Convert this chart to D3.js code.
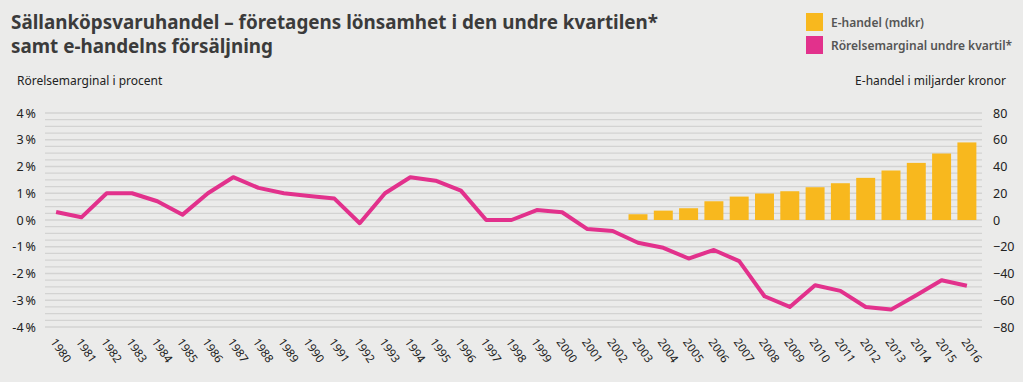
<!DOCTYPE html>
<html>
<head>
<meta charset="utf-8">
<script src="https://cdn.jsdelivr.net/npm/d3@7"></script>
<style>
  body { margin: 0; background: #ebebea; }
  svg { display: block; font-family: "Noto Sans", "Open Sans", sans-serif; }
</style>
</head>
<body>
<svg id="chart" width="1023" height="382"></svg>
<script>
// Data
var years = d3.range(1980, 2017);
var margin = [0.3, 0.1, 1.0, 1.0, 0.7, 0.2, 1.0, 1.6, 1.2, 1.0,
              0.9, 0.8, -0.12, 1.0, 1.6, 1.47, 1.1, 0.0, 0.0, 0.37,
              0.29, -0.34, -0.41, -0.85, -1.04, -1.44, -1.12, -1.54, -2.85, -3.25,
              -2.44, -2.65, -3.25, -3.35, -2.81, -2.25, -2.46];
var ehandelYears = d3.range(2003, 2017);
var ehandel = [4.3, 7, 8.8, 14, 17.5, 19.8, 21.5, 24.5, 27.5, 31.5, 37, 42.7, 49.7, 58];
var leftTicks = [4, 3, 2, 1, 0, -1, -2, -3, -4];
var rightTicks = [80, 60, 40, 20, 0, -20, -40, -60, -80];

var svg = d3.select("#chart");

// Skalor
var x = d3.scaleBand().domain(years).range([40.3, 982.7]).padding(0.25);
var yL = d3.scaleLinear().domain([-4, 4]).range([327, 113]);
var yR = d3.scaleLinear().domain([-80, 80]).range([327, 113]);

// Rubrik
svg.append("text")
    .attr("x", 11).attr("y", 29)
    .attr("font-size", 19.5).attr("font-weight", "bold").attr("fill", "#3b3b3b")
    .attr("textLength", 647).attr("lengthAdjust", "spacingAndGlyphs")
    .text("Sällanköpsvaruhandel – företagens lönsamhet i den undre kvartilen*");
svg.append("text")
    .attr("x", 11).attr("y", 53)
    .attr("font-size", 19.5).attr("font-weight", "bold").attr("fill", "#3b3b3b")
    .attr("textLength", 262).attr("lengthAdjust", "spacingAndGlyphs")
    .text("samt e-handelns försäljning");

// Axeltitlar
svg.append("text")
    .attr("x", 17).attr("y", 85)
    .attr("font-size", 12).attr("fill", "#222")
    .text("Rörelsemarginal i procent");
svg.append("text")
    .attr("x", 1006).attr("y", 85)
    .attr("font-size", 12).attr("fill", "#222")
    .attr("text-anchor", "end")
    .text("E-handel i miljarder kronor");

// Legend
var legend = [
    { label: "E-handel (mdkr)", color: "#f8b81e" },
    { label: "Rörelsemarginal undre kvartil*", color: "#e2318c" }
];
var lg = svg.selectAll(".legend").data(legend).enter().append("g")
    .attr("class", "legend")
    .attr("transform", function (d, i) { return "translate(806," + (13 + i * 23) + ")"; });
lg.append("rect").attr("width", 17).attr("height", 18).attr("fill", function (d) { return d.color; });
lg.append("text")
    .attr("x", 25).attr("y", 14)
    .attr("font-size", 12).attr("font-weight", 600).attr("fill", "#555")
    .text(function (d) { return d.label; });

// Stödlinjer
svg.append("g").selectAll("line")
    .data(d3.range(-4, 4.001, 0.25))
    .enter().append("line")
    .attr("x1", 45).attr("x2", 982)
    .attr("y1", function (d) { return yL(d); })
    .attr("y2", function (d) { return yL(d); })
    .attr("stroke", "#d3d3d2").attr("stroke-width", 1.3);

// Vänster axel
var axL = svg.append("g")
    .attr("transform", "translate(36,0)")
    .call(d3.axisLeft(yL).tickValues(leftTicks).tickSize(0).tickPadding(0)
        .tickFormat(function (d) { return d + "\u2009%"; }));
axL.select(".domain").remove();
axL.selectAll("text").attr("font-size", 12.5).attr("fill", "#222")
    .attr("font-family", "Noto Sans, sans-serif");

// Höger axel
var axR = svg.append("g")
    .attr("transform", "translate(993,0)")
    .call(d3.axisRight(yR).tickValues(rightTicks).tickSize(0).tickPadding(0));
axR.select(".domain").remove();
axR.selectAll("text").attr("font-size", 12.5).attr("fill", "#222")
    .attr("font-family", "Noto Sans, sans-serif");

// X-axel
var axX = svg.append("g")
    .attr("transform", "translate(0,338)")
    .call(d3.axisBottom(x).tickSize(0).tickPadding(0));
axX.select(".domain").remove();
axX.selectAll("text")
    .attr("font-size", 11.5).attr("fill", "#222")
    .attr("font-family", "Noto Sans, sans-serif")
    .attr("text-anchor", "start")
    .attr("dy", 0)
    .attr("transform", "translate(-6,4) rotate(55)");

// Staplar
svg.append("g").selectAll("rect")
    .data(ehandelYears)
    .enter().append("rect")
    .attr("x", function (d) { return x(d); })
    .attr("width", x.bandwidth())
    .attr("y", function (d, i) { return yR(ehandel[i]); })
    .attr("height", function (d, i) { return yR(0) - yR(ehandel[i]); })
    .attr("fill", "#f8b81e");

// Linje
var line = d3.line()
    .x(function (d, i) { return x(years[i]) + x.bandwidth() / 2; })
    .y(function (d) { return yL(d); });
svg.append("path")
    .datum(margin)
    .attr("d", line)
    .attr("fill", "none")
    .attr("stroke", "#e2318c")
    .attr("stroke-width", 4)
    .attr("stroke-linejoin", "round");
</script>
</body>
</html>
